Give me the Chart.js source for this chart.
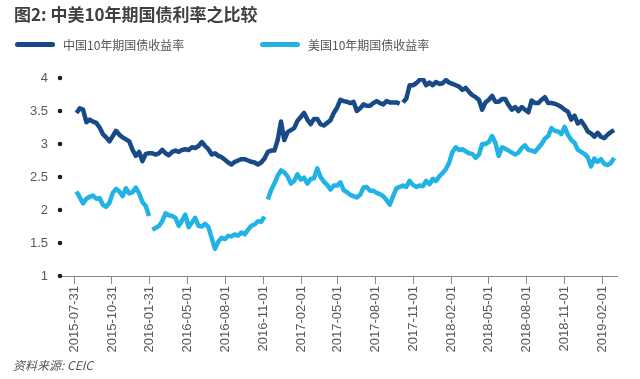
<!DOCTYPE html>
<html>
<head>
<meta charset="utf-8">
<script src="https://cdn.jsdelivr.net/npm/chart.js@4"></script>
<style>
  body { margin: 0; background: #fff; }
  #wrap { position: relative; width: 640px; height: 379px; overflow: hidden; }
  #chart { position: absolute; left: 0; top: 0; }
  .title { position: absolute; left: 14px; top: 2px; font: bold 17px "Noto Sans CJK SC", sans-serif; color: #404040; line-height: 24px; white-space: nowrap; }
  .leg { position: absolute; top: 37px; height: 16px; font: 12px "Noto Sans CJK SC", sans-serif; color: #555; line-height: 16px; white-space: nowrap; }
  .leg i { position: absolute; top: 5px; width: 40px; height: 5px; border-radius: 3px; }
  .leg span { position: absolute; left: 48px; top: 0; }
  .src { position: absolute; left: 13px; top: 357px; font: italic 12px "Noto Sans CJK SC", sans-serif; color: #555; line-height: 16px; }
</style>
</head>
<body>
<div id="wrap">
  <canvas id="chart" width="640" height="379"></canvas>
  <div class="title">图2: 中美10年期国债利率之比较</div>
  <div class="leg" style="left:15px"><i style="background:#174a86"></i><span>中国10年期国债收益率</span></div>
  <div class="leg" style="left:260px"><i style="background:#21b3e6"></i><span>美国10年期国债收益率</span></div>
  <div class="src">资料来源: CEIC</div>
</div>
<script>
// sampled every 8 days from firstDate
const firstDate = '2015-08-06';
const stepDays = 8;

const chinaYield = [
  3.47, 3.54, 3.52, 3.33, 3.37, 3.34, 3.32, 3.25, 3.15, 3.10,
  3.04, 3.12, 3.20, 3.14, 3.10, 3.07, 3.04, 2.91, 2.82, 2.88,
  2.74, 2.85, 2.86, 2.86, 2.84, 2.86, 2.91, 2.86, 2.83, 2.88,
  2.90, 2.88, 2.91, 2.92, 2.91, 2.95, 2.94, 2.97, 3.03, 2.97,
  2.92, 2.84, 2.86, 2.82, 2.80, 2.76, 2.72, 2.69, 2.73, 2.75,
  2.77, 2.77, 2.75, 2.73, 2.72, 2.69, 2.72, 2.78, 2.88, 2.90,
  2.90, 3.06, 3.34, 3.06, 3.18, 3.21, 3.24, 3.35, 3.41, 3.47,
  3.37, 3.30, 3.38, 3.38, 3.30, 3.28, 3.32, 3.36, 3.47, 3.55,
  3.67, 3.65, 3.64, 3.62, 3.64, 3.50, 3.54, 3.60, 3.58, 3.58,
  3.62, 3.65, 3.62, 3.60, 3.65, 3.63, 3.63, 3.63, 3.61, 3.63,
  3.69, 3.89, 3.89, 3.92, 3.97, 3.99, 3.89, 3.93, 3.89, 3.94,
  3.91, 3.92, 3.97, 3.93, 3.91, 3.89, 3.87, 3.82, 3.85, 3.79,
  3.74, 3.71, 3.67, 3.52, 3.63, 3.67, 3.73, 3.64, 3.64, 3.68,
  3.68, 3.59, 3.52, 3.56, 3.50, 3.56, 3.52, 3.48, 3.66, 3.62,
  3.62, 3.67, 3.71, 3.62, 3.62, 3.61, 3.59, 3.56, 3.52, 3.49,
  3.37, 3.43, 3.31, 3.35, 3.28, 3.19, 3.16, 3.11, 3.17, 3.11,
  3.09, 3.14, 3.18, 3.21
];

const usYield = [
  2.28, 2.19, 2.10, 2.17, 2.20, 2.22, 2.17, 2.18, 2.08, 2.05,
  2.11, 2.26, 2.32, 2.28, 2.21, 2.33, 2.25, 2.27, 2.34, 2.25,
  2.12, 2.06, 1.91, 1.70, 1.73, 1.76, 1.83, 1.95, 1.92, 1.91,
  1.88, 1.76, 1.84, 1.93, 1.74, 1.81, 1.88, 1.76, 1.75, 1.79,
  1.74, 1.57, 1.41, 1.52, 1.58, 1.56, 1.61, 1.60, 1.63, 1.61,
  1.66, 1.63, 1.70, 1.76, 1.78, 1.83, 1.82, 1.90, 2.16, 2.30,
  2.40, 2.52, 2.60, 2.57, 2.51, 2.40, 2.44, 2.54, 2.46, 2.49,
  2.40, 2.47, 2.48, 2.63, 2.50, 2.43, 2.38, 2.31, 2.37, 2.37,
  2.42, 2.30, 2.27, 2.23, 2.21, 2.19, 2.23, 2.34, 2.35, 2.29,
  2.29, 2.26, 2.24, 2.21, 2.15, 2.08, 2.21, 2.33, 2.35, 2.37,
  2.35, 2.44, 2.38, 2.35, 2.37, 2.36, 2.44, 2.39, 2.47, 2.44,
  2.51, 2.56, 2.62, 2.72, 2.88, 2.95, 2.91, 2.92, 2.89, 2.86,
  2.85, 2.79, 2.84, 3.00, 3.00, 3.03, 3.12, 3.02, 2.82, 2.95,
  2.93, 2.90, 2.87, 2.84, 2.87, 2.94, 2.98, 2.91, 2.90, 2.88,
  2.94, 3.00, 3.08, 3.12, 3.24, 3.20, 3.19, 3.15, 3.26, 3.14,
  3.06, 3.02, 2.91, 2.88, 2.85, 2.80, 2.66, 2.78, 2.73, 2.77,
  2.70, 2.68, 2.71, 2.79
];

// index of the point after which the line breaks (missing data)
const chinaBreaks = [98];
const usBreaks = [22, 57];

const tickDates = [
  '2015-07-31', '2015-10-31', '2016-01-31', '2016-05-01', '2016-08-01',
  '2016-11-01', '2017-02-01', '2017-05-01', '2017-08-01', '2017-11-01',
  '2018-02-01', '2018-05-01', '2018-08-01', '2018-11-01', '2019-02-01'
];
const axisStart = '2015-06-27';
const axisEnd = '2019-03-09';

const DAY = 86400000;
const toDay = s => (Date.parse(s) - Date.parse(tickDates[0])) / DAY;

const dates = chinaYield.map((_, i) =>
  new Date(Date.parse(firstDate) + i * stepDays * DAY).toISOString().slice(0, 10));

const toPoints = vals => vals.map((v, i) => ({ x: toDay(dates[i]), y: v }));
const gapAt = breaks => ({
  borderColor: ctx => breaks.includes(ctx.p0DataIndex) ? 'rgba(0,0,0,0)' : undefined
});

const yDots = {
  id: 'yDots',
  afterDraw(chart) {
    const { ctx, chartArea, scales: { y } } = chart;
    ctx.save();
    ctx.fillStyle = '#1e1e1e';
    y.ticks.forEach(t => {
      ctx.beginPath();
      ctx.arc(chartArea.left, y.getPixelForValue(t.value), 2.3, 0, Math.PI * 2);
      ctx.fill();
    });
    ctx.restore();
  }
};

new Chart(document.getElementById('chart'), {
  type: 'line',
  data: {
    datasets: [{
      label: '中国10年期国债收益率',
      data: toPoints(chinaYield),
      borderColor: '#174a86',
      borderWidth: 4.5,
      pointRadius: 0,
      borderJoinStyle: 'round',
      segment: gapAt(chinaBreaks)
    }, {
      label: '美国10年期国债收益率',
      data: toPoints(usYield),
      borderColor: '#21b3e6',
      borderWidth: 4.5,
      pointRadius: 0,
      borderJoinStyle: 'round',
      segment: gapAt(usBreaks)
    }]
  },
  options: {
    responsive: false,
    animation: false,
    layout: { padding: { left: 10, top: 78, right: 23, bottom: 19 } },
    plugins: { legend: { display: false }, tooltip: { enabled: false } },
    scales: {
      x: {
        type: 'linear',
        min: toDay(axisStart),
        max: toDay(axisEnd),
        afterBuildTicks: s => { s.ticks = tickDates.map(d => ({ value: toDay(d) })); },
        afterFit: s => { s.height = 84; },
        grid: { drawOnChartArea: false, drawTicks: true, tickLength: 8, color: '#8a8a8a' },
        border: { display: true, color: '#8a8a8a', width: 1 },
        ticks: {
          autoSkip: false,
          maxRotation: 90,
          minRotation: 90,
          padding: 2,
          color: '#595959',
          font: { family: 'Liberation Sans', size: 13 },
          callback: (v, i) => tickDates[i]
        }
      },
      y: {
        min: 1,
        max: 4,
        afterFit: s => { s.width = 50; },
        grid: { display: false, drawTicks: false },
        border: { display: false },
        ticks: {
          stepSize: 0.5,
          padding: 12,
          color: '#595959',
          font: { family: 'Liberation Sans', size: 13 },
          callback: v => String(v)
        }
      }
    }
  },
  plugins: [yDots]
});
</script>
</body>
</html>
